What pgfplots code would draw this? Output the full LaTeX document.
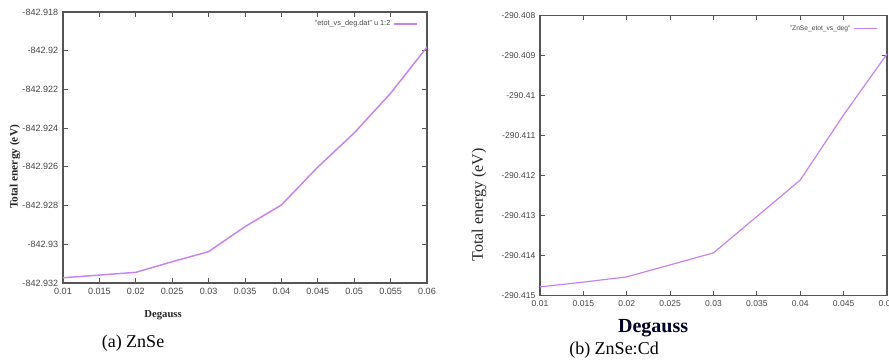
\documentclass[border=0pt]{standalone}
\usepackage{fontspec}
\setmainfont{Liberation Serif}
\setsansfont{Liberation Sans}
\usepackage{pgfplots}
\pgfplotsset{compat=1.18}
\definecolor{lineviolet}{RGB}{200,130,240}
\definecolor{axgray}{RGB}{85,85,85}
\definecolor{tickgray}{RGB}{70,70,70}
\pgfplotsset{
  gp/.style={
    scale only axis,
    axis line style={axgray, line width=0.9pt},
    tick style={axgray, line width=0.6pt},
    tick align=inside,
    major tick length=3.5pt,
    ticklabel style={font=\sffamily\fontsize{6.8}{7.5}\selectfont, text=tickgray},
    scaled ticks=false,
    legend style={draw=none, fill=none, font=\sffamily\fontsize{5.5}{6.5}\selectfont, text=tickgray,
      at={(1,1)}, anchor=north east, inner sep=1pt},
    legend plot pos=right,
    legend cell align=right,
    legend image post style={line width=1.2pt},
  }
}
\begin{document}
\begin{tikzpicture}[x=0.75pt,y=0.75pt]
\useasboundingbox (0,0) rectangle (889,361);
\begin{axis}[gp,
  at={(47.25pt,58.5pt)}, anchor=south west,
  width=273pt, height=203.25pt,
  xmin=0.01, xmax=0.06, ymin=-842.932, ymax=-842.918,
  xtick={0.01,0.015,0.02,0.025,0.03,0.035,0.04,0.045,0.05,0.055,0.06},
  xticklabels={0.01,0.015,0.02,0.025,0.03,0.035,0.04,0.045,0.05,0.055,0.06},
  ytick={-842.932,-842.930,-842.928,-842.926,-842.924,-842.922,-842.920,-842.918},
  yticklabels={-842.932,-842.93,-842.928,-842.926,-842.924,-842.922,-842.92,-842.918},
  xlabel={\bfseries Degauss},
  xlabel style={font=\fontsize{8}{9}\selectfont, text=black!85, at={(axis description cs:0.275,0)}, anchor=center, yshift=-24pt},
  ylabel={\bfseries Total energy (eV)},
  ylabel style={font=\fontsize{8.5}{9}\selectfont, text=black!85, at={(axis description cs:-0.132,0.428)}, anchor=center, rotate=0},
  legend style={xshift=-6pt, yshift=-3pt},
]
\addplot[lineviolet, line width=1.1pt] coordinates {
 (0.01,-842.93173) (0.015,-842.93159) (0.02,-842.93145) (0.025,-842.93090)
 (0.03,-842.93038) (0.035,-842.92909) (0.04,-842.92797) (0.045,-842.92601)
 (0.05,-842.92425) (0.055,-842.92220) (0.06,-842.91981)
};
\addlegendentry{"etot\_vs\_deg.dat" u 1:2}
\end{axis}
\begin{axis}[gp,
  at={(405pt,49pt)}, anchor=south west,
  width=260.25pt, height=210pt,
  xmin=0.01, xmax=0.05, ymin=-290.415, ymax=-290.408,
  xtick={0.01,0.015,0.02,0.025,0.03,0.035,0.04,0.045,0.05},
  xticklabels={0.01,0.015,0.02,0.025,0.03,0.035,0.04,0.045,0.05},
  ytick={-290.415,-290.414,-290.413,-290.412,-290.411,-290.41,-290.409,-290.408},
  yticklabels={-290.415,-290.414,-290.413,-290.412,-290.411,-290.41,-290.409,-290.408},
  ticklabel style={font=\sffamily\fontsize{6.4}{7}\selectfont, text=tickgray},
  xlabel={\bfseries Degauss},
  xlabel style={font=\fontsize{15}{16}\selectfont, text=black!85!blue, at={(axis description cs:0.326,0)}, anchor=center, yshift=-24.2pt},
  ylabel={Total energy (eV)},
  ylabel style={font=\fontsize{12}{13}\selectfont, text=black!85, at={(axis description cs:-0.176,0.324)}, anchor=center, rotate=0},
  legend style={xshift=-6pt, yshift=-4pt, font=\sffamily\fontsize{5}{6}\selectfont},
]
\addplot[lineviolet, line width=0.9pt] coordinates {
 (0.01,-290.41478) (0.015,-290.41466) (0.02,-290.41453) (0.025,-290.41423)
 (0.03,-290.41393) (0.035,-290.41302) (0.04,-290.41211) (0.045,-290.41048)
 (0.05,-290.40896)
};
\addlegendentry{"ZnSe\_etot\_vs\_deg"}
\end{axis}
\node[font=\fontsize{13.5}{14}\selectfont] at (133,18) {(a) ZnSe};
\node[font=\fontsize{13.5}{14}\selectfont] at (614,11) {(b) ZnSe:Cd};
\end{tikzpicture}
\end{document}
